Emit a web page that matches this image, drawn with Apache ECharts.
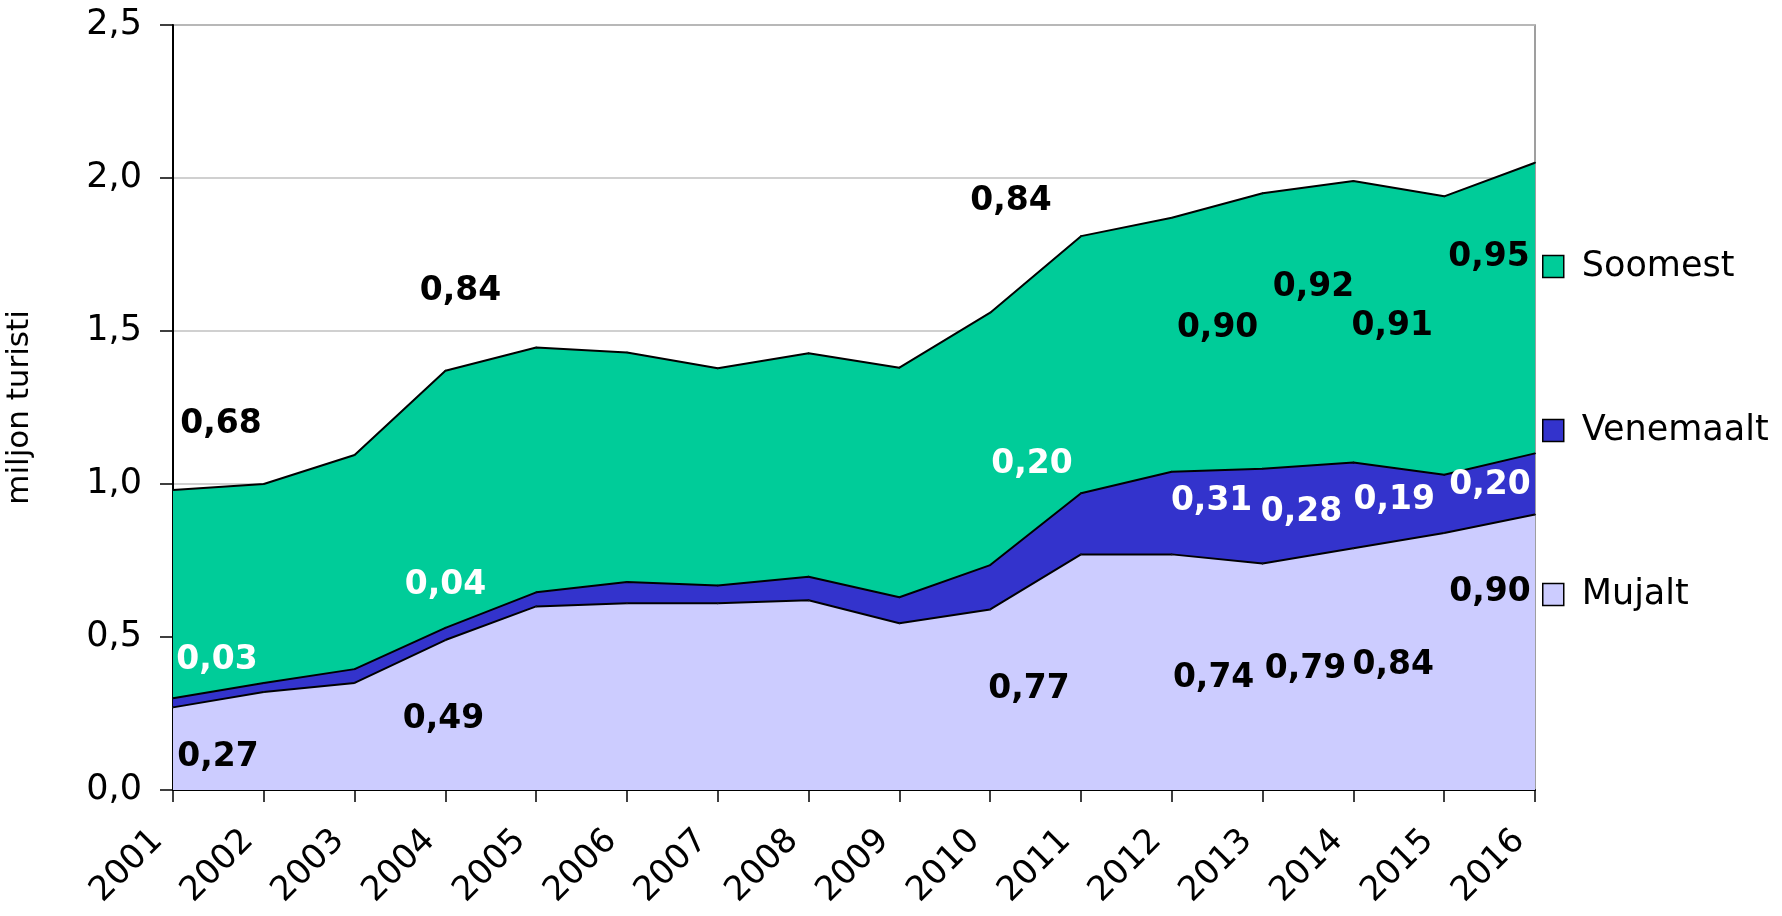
<!DOCTYPE html>
<html>
<head>
<meta charset="utf-8">
<script src="https://cdn.jsdelivr.net/npm/echarts@6/dist/echarts.min.js"></script>
<style>
	html, body { margin: 0; padding: 0; background: #fff; }
	#chart { width: 1782px; height: 916px; }
</style>
</head>
<body>
<div id="chart"></div>
<script>
const years = ['2001', '2002', '2003', '2004', '2005', '2006', '2007', '2008', '2009', '2010', '2011', '2012', '2013', '2014', '2015', '2016'];
const mujalt = [0.27, 0.32, 0.35, 0.49, 0.60, 0.61, 0.61, 0.62, 0.545, 0.59, 0.77, 0.77, 0.74, 0.79, 0.84, 0.90];
const venemaalt = [0.03, 0.03, 0.045, 0.04, 0.046, 0.07, 0.058, 0.077, 0.085, 0.145, 0.20, 0.27, 0.31, 0.28, 0.19, 0.20];
const soomest = [0.68, 0.65, 0.70, 0.84, 0.80, 0.75, 0.71, 0.73, 0.75, 0.825, 0.84, 0.83, 0.90, 0.92, 0.91, 0.95];
const yTicks = [0, 0.5, 1.0, 1.5, 2.0, 2.5];

// which years get a value label, and where the label sits relative to the point
const labelOffsets = {
	Soomest: { 0: [48, -66], 3: [15, -79], 10: [-70, -35], 12: [-45, 135], 13: [-40, 106], 14: [-52, 130], 15: [-46, 95] },
	Venemaalt: { 0: [44, -38], 3: [0, -42], 10: [-49, -29], 12: [-51, 33], 13: [-52, 50], 14: [-50, 26], 15: [-45, 32] },
	Mujalt: { 0: [45, 50], 3: [-2, 79], 10: [-52, 135], 12: [-49, 115], 13: [-48, 121], 14: [-51, 132], 15: [-45, 78] },
};

const FONT = '"DejaVu Sans", sans-serif';
const fmt = (v) => Number(v).toFixed(2).replace('.', ',');

function withLabels(name, values) {
	const offs = labelOffsets[name] || {};
	return values.map((v, i) => (offs[i] ? { value: v, label: { show: true, offset: offs[i] } } : v));
}

function areaSeries(name, values, fill, labelColor) {
	return {
		name,
		type: 'line',
		stack: 'total',
		data: withLabels(name, values),
		symbol: 'circle',
		symbolSize: 1,
		showSymbol: true,
		itemStyle: { color: fill, borderColor: '#000', borderWidth: 1 },
		lineStyle: { color: '#000', width: 2 },
		areaStyle: { color: fill, opacity: 1 },
		emphasis: { disabled: true },
		animation: false,
		label: {
			show: false,
			position: 'inside',
			align: 'center',
			verticalAlign: 'middle',
			color: labelColor,
			fontFamily: FONT,
			fontWeight: 'bold',
			fontSize: 33,
			formatter: (p) => fmt(p.value),
		},
	};
}

const chart = echarts.init(document.getElementById('chart'), null, { renderer: 'canvas' });

chart.setOption({
	backgroundColor: '#fff',
	animation: false,
	grid: {
		left: 173,
		right: 247,
		top: 25,
		bottom: 126,
		outerBoundsMode: 'none',
		containLabel: false,
		show: true,
		borderColor: '#808080',
		borderWidth: 1.5,
		backgroundColor: 'transparent',
	},
	legend: {
		orient: 'vertical',
		left: 1537,
		top: 244,
		itemWidth: 21,
		itemHeight: 22,
		itemGap: 129,
		icon: 'rect',
		itemStyle: { borderColor: '#000', borderWidth: 1.5 },
		textStyle: { fontFamily: FONT, fontSize: 35, color: '#000', padding: [0, 0, 0, 13] },
		data: ['Soomest', 'Venemaalt', 'Mujalt'],
		selectedMode: false,
	},
	xAxis: {
		type: 'category',
		data: years,
		boundaryGap: false,
		axisLine: { lineStyle: { color: '#000', width: 2 } },
		axisTick: { show: true, length: 12, lineStyle: { color: '#000', width: 1.5 } },
		axisLabel: {
			rotate: 45,
			margin: 30,
			padding: [0, 22, 0, 0],
			interval: 0,
			color: '#000',
			fontFamily: FONT,
			fontSize: 34,
		},
		splitLine: { show: false },
	},
	yAxis: {
		type: 'value',
		min: yTicks[0],
		max: yTicks[yTicks.length - 1],
		interval: 0.5,
		name: 'miljon turisti',
		nameLocation: 'middle',
		nameRotate: 90,
		nameGap: 138,
		nameTextStyle: { fontFamily: FONT, fontSize: 31, color: '#000' },
		axisLine: { show: true, lineStyle: { color: '#000', width: 2 } },
		axisTick: { show: true, length: 13, lineStyle: { color: '#000', width: 1.5 } },
		axisLabel: {
			margin: 31,
			color: '#000',
			fontFamily: FONT,
			fontSize: 35,
			formatter: (v) => v.toFixed(1).replace('.', ','),
		},
		splitLine: { show: true, lineStyle: { color: '#c0c0c0', width: 1.5 } },
	},
	series: [
		areaSeries('Mujalt', mujalt, '#ccccff', '#000'),
		areaSeries('Venemaalt', venemaalt, '#3333cc', '#fff'),
		areaSeries('Soomest', soomest, '#00cc99', '#000'),
	],
});
</script>
</body>
</html>
